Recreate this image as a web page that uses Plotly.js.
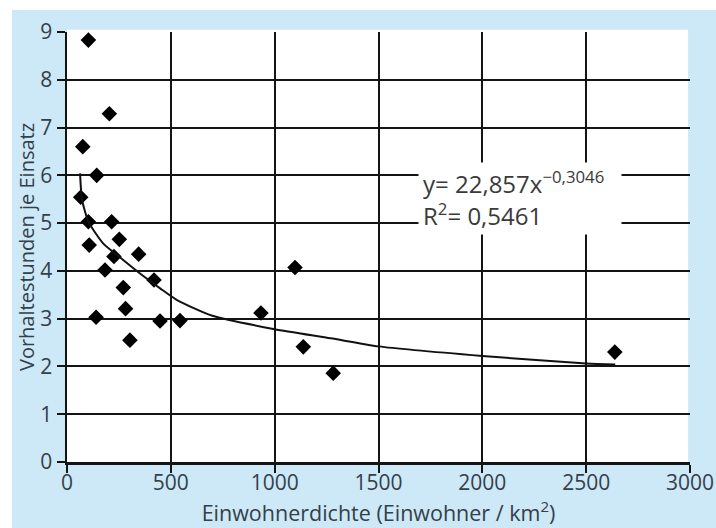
<!DOCTYPE html>
<html>
<head>
<meta charset="utf-8">
<script src="https://cdn.plot.ly/plotly-3.0.1.min.js"></script>
<style>
html,body{margin:0;padding:0;background:#ffffff;}
#chart{width:716px;height:528px;}
</style>
</head>
<body>
<div id="chart"></div>
<script>
// Scatter data: Einwohnerdichte (x) vs Vorhaltestunden je Einsatz (y)
var densityX = [103, 204, 76, 143, 66, 103, 215, 107, 252, 226, 345, 183, 419, 271, 282, 140, 448, 303, 544, 1098, 934, 1138, 1282, 2638];
var hoursY   = [8.83, 7.29, 6.60, 6.00, 5.54, 5.03, 5.03, 4.54, 4.66, 4.30, 4.35, 4.02, 3.81, 3.65, 3.21, 3.03, 2.95, 2.55, 2.96, 4.07, 3.12, 2.41, 1.86, 2.30];

// Trend curve
var trendX = [63, 72, 103, 175, 250, 350, 450, 530, 700, 1000, 1270, 1500, 2000, 2500, 2640];
var trendY = [6.04, 5.50, 5.03, 4.57, 4.30, 3.95, 3.63, 3.39, 3.06, 2.78, 2.59, 2.42, 2.22, 2.06, 2.04];

var xTicks = [0, 500, 1000, 1500, 2000, 2500, 3000];
var yTicks = [0, 1, 2, 3, 4, 5, 6, 7, 8, 9];
var xGrid = [500, 1000, 1500, 2000, 2500];
var yGrid = [1, 2, 3, 4, 5, 6, 7, 8];

var xTitle = 'Einwohnerdichte (Einwohner / km<sup>2</sup>)';
var yTitle = 'Vorhaltestunden je Einsatz';
var eqText = 'y= 22,857x<sup>−0,3046</sup><br>R<sup>2</sup>= 0,5461';

var txtColor = '#33404a';
var fontFam = '"Open Sans", "Noto Sans", Arial, sans-serif';
var ink = '#141414';

var traces = [
  {
    x: trendX, y: trendY, type: 'scatter', mode: 'lines',
    xaxis: 'x2', yaxis: 'y2',
    line: {color: '#111111', width: 2, shape: 'spline', smoothing: 0.6},
    hoverinfo: 'skip', showlegend: false
  },
  {
    x: densityX, y: hoursY, type: 'scatter', mode: 'markers',
    marker: {symbol: 'diamond', size: 12, color: '#000000'},
    showlegend: false
  }
];

var layout = {
  width: 716, height: 528,
  margin: {l: 67, r: 26, t: 32, b: 66, pad: 0},
  paper_bgcolor: '#ffffff',
  plot_bgcolor: '#ffffff',
  font: {family: fontFam, color: txtColor, size: 20},
  showlegend: false,
  xaxis: {
    range: [0, 3000], tickvals: xTicks, ticktext: xTicks.map(String),
    showgrid: false,
    showline: true, linecolor: ink, linewidth: 2.5,
    ticks: 'outside', ticklen: 8, tickwidth: 2, tickcolor: ink,
    ticklabelstandoff: -8,
    zeroline: false, fixedrange: true,
    tickfont: {family: fontFam, size: 21, color: txtColor},
    title: {text: xTitle, font: {family: fontFam, size: 21.5, color: txtColor}, standoff: 0}
  },
  yaxis: {
    range: [0, 9], tickvals: yTicks, ticktext: yTicks.map(String),
    showgrid: false,
    showline: true, linecolor: ink, linewidth: 2.5,
    ticks: 'outside', ticklen: 8, tickwidth: 2, tickcolor: ink,
    zeroline: false, fixedrange: true,
    tickfont: {family: fontFam, size: 21, color: txtColor},
    title: {text: yTitle, font: {family: fontFam, size: 20, color: txtColor}, standoff: 0}
  },
  xaxis2: {
    overlaying: 'x', anchor: 'y', range: [0, 3000],
    tickvals: xGrid, showticklabels: false, ticks: '',
    showgrid: true, gridcolor: ink, gridwidth: 2,
    showline: false, zeroline: false, fixedrange: true
  },
  yaxis2: {
    overlaying: 'y', anchor: 'x', range: [0, 9],
    tickvals: yGrid, showticklabels: false, ticks: '',
    showgrid: true, gridcolor: ink, gridwidth: 2,
    showline: false, zeroline: false, fixedrange: true
  },
  shapes: [
    {type: 'rect', xref: 'paper', yref: 'paper', layer: 'below',
     x0: -0.0883, x1: 1.05, y0: -0.16, y1: 1.0512,
     fillcolor: '#cde8f7', line: {width: 0}},
    {type: 'rect', xref: 'paper', yref: 'paper', layer: 'below',
     x0: 0, x1: 0.997, y0: 0, y1: 1.005,
     fillcolor: '#ffffff', line: {width: 0}}
  ],
  annotations: [
    {xref: 'x', yref: 'y', x: 1690, y: 6.28, xanchor: 'left', yanchor: 'top',
     text: eqText, showarrow: false, align: 'left', valign: 'middle',
     width: 194, height: 63, borderpad: 4, bgcolor: '#ffffff',
     font: {family: fontFam, size: 24, color: '#3a3a3a'}}
  ]
};

Plotly.newPlot('chart', traces, layout, {displayModeBar: false, staticPlot: true});
</script>
</body>
</html>
